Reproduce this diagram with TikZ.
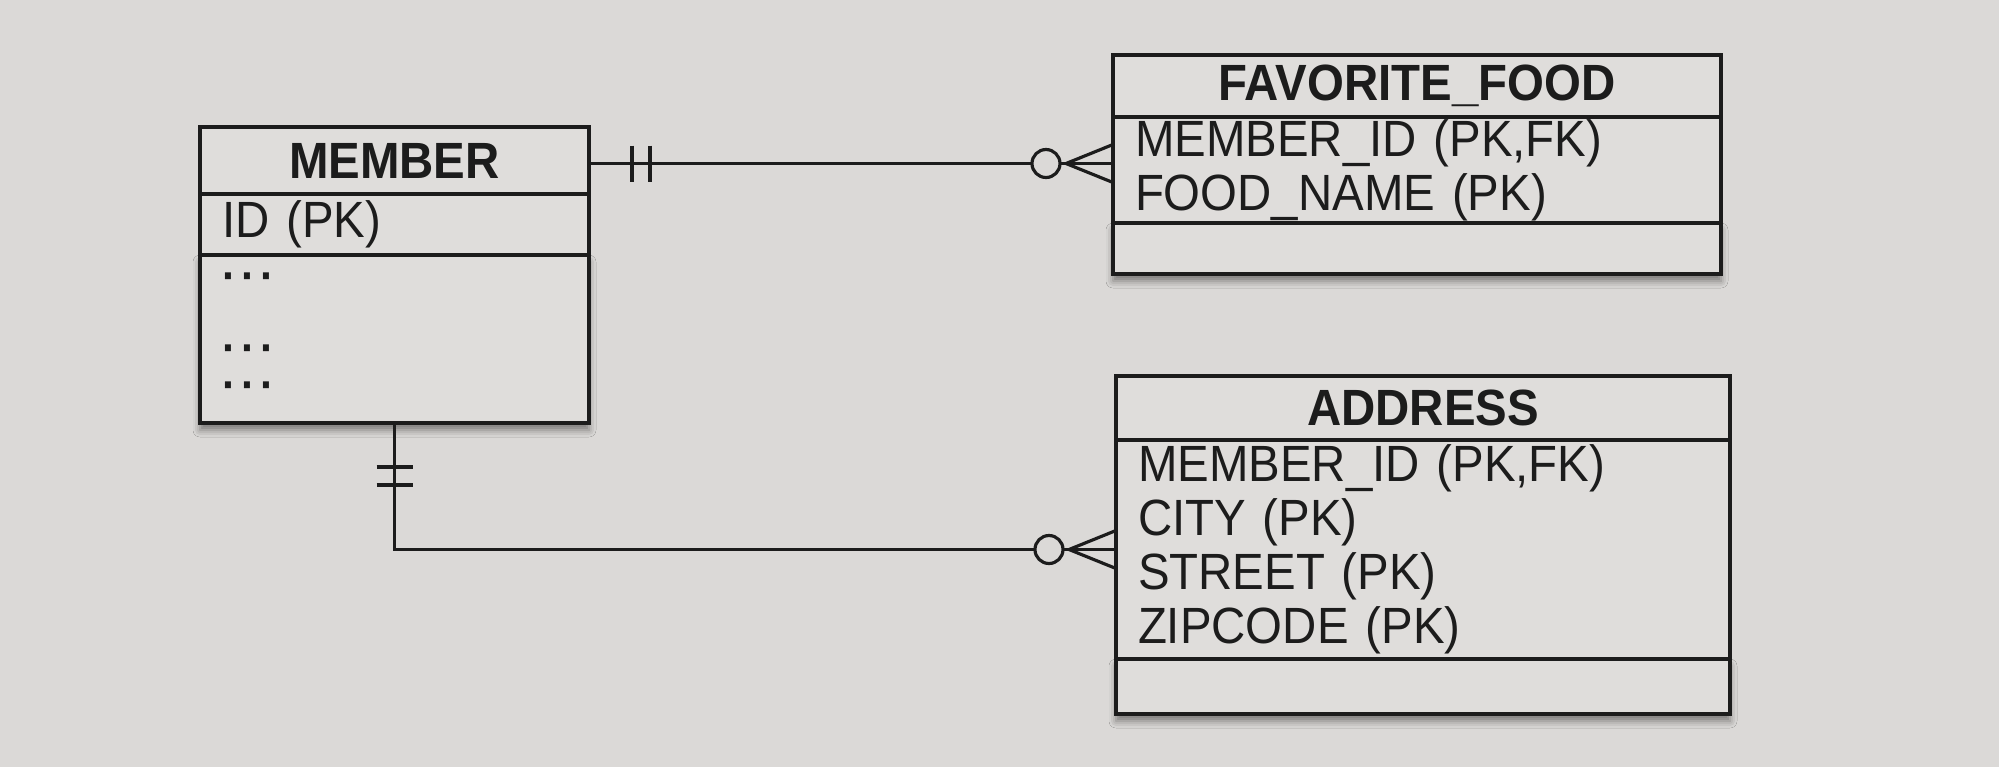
\documentclass[tikz,border=0pt]{standalone}
\usepackage{fontspec}
\setmainfont{Liberation Sans}[FakeStretch=0.93]
\usetikzlibrary{positioning, calc, shadows.blur}
\definecolor{paper}{RGB}{219,217,215}
\definecolor{cardc}{RGB}{223,221,219}
\definecolor{ink}{RGB}{28,28,28}
\tikzset{
  every node/.style={text=ink, font=\fontsize{14.5}{15.4}\selectfont},
  thead/.style={
    draw=ink, fill=cardc, line width=0.9pt, outer sep=0pt, inner sep=0pt,
    minimum width=#1, font=\fontsize{14.5}{15.4}\selectfont\bfseries
  },
  tbody/.style={
    draw=ink, fill=cardc, line width=0.9pt, outer sep=0pt,
    inner xsep=0.22cm, inner ysep=0pt, text width=#1, align=left
  },
  tfoot/.style={
    tbody=#1,
    blur shadow={shadow xshift=0pt, shadow yshift=-0.07cm,
      shadow blur radius=0.07cm, shadow opacity=45}
  },
  rel/.style={draw=ink, line width=0.9pt}
}

\begin{document}
\begin{tikzpicture}
  \useasboundingbox (0,0) rectangle (19.99,-7.67);
  \fill[paper] (0,0) rectangle (19.99,-7.67);

  % MEMBER
  \node[thead=3.89cm, minimum height=0.67cm, anchor=north west] (mhead) at (2.00,-1.27) {MEMBER};
  \node[tbody=3.45cm, minimum height=0.61cm, below=0pt of mhead] (mbody) {ID (PK)};
  \node[tfoot=3.45cm, text height=0.36cm, text depth=1.32cm,
    font=\fontsize{13}{13.5}\selectfont\bfseries, below=0pt of mbody] (mrest)
    {·\kern0.05cm·\kern0.05cm·\\[0.254cm]·\kern0.05cm·\kern0.05cm·\\[-0.106cm]·\kern0.05cm·\kern0.05cm·};

  % FAVORITE_FOOD
  \node[thead=6.08cm, minimum height=0.62cm, anchor=north west] (fhead) at (11.13,-0.55) {FAVORITE\_FOOD};
  \node[tbody=5.64cm, minimum height=1.06cm, below=0pt of fhead] (fbody)
    {MEMBER\_ID (PK,FK)\\FOOD\_NAME (PK)};
  \node[tfoot=5.64cm, minimum height=0.51cm, below=0pt of fbody] (ffoot) {};

  % ADDRESS
  \node[thead=6.14cm, minimum height=0.64cm, anchor=north west] (ahead) at (11.16,-3.76) {ADDRESS};
  \node[tbody=5.70cm, minimum height=2.19cm, below=0pt of ahead] (abody)
    {MEMBER\_ID (PK,FK)\\CITY (PK)\\STREET (PK)\\ZIPCODE (PK)};
  \node[tfoot=5.70cm, minimum height=0.55cm, below=0pt of abody] (afoot) {};

  % MEMBER -- FAVORITE_FOOD
  \coordinate (fend) at ([yshift=-0.03cm]mhead.east -| fbody.west);
  \draw[rel] ([yshift=-0.03cm]mhead.east) -- (fend);
  \draw[rel] ([xshift=0.43cm,yshift=0.15cm]mhead.east) -- ++(0,-0.36);
  \draw[rel] ([xshift=0.61cm,yshift=0.15cm]mhead.east) -- ++(0,-0.36);
  \draw[rel, fill=paper] ([xshift=-0.67cm]fend) circle (0.14);
  \draw[rel] ([xshift=-0.47cm]fend) -- ([yshift=0.19cm]fend)
             ([xshift=-0.47cm]fend) -- ([yshift=-0.19cm]fend);

  % MEMBER -- ADDRESS
  \coordinate (aend) at (abody.west);
  \draw[rel] (mrest.south) |- (aend);
  \draw[rel] ([xshift=-0.18cm,yshift=-0.44cm]mrest.south) -- ++(0.36,0);
  \draw[rel] ([xshift=-0.18cm,yshift=-0.62cm]mrest.south) -- ++(0.36,0);
  \draw[rel, fill=paper] ([xshift=-0.67cm]aend) circle (0.14);
  \draw[rel] ([xshift=-0.47cm]aend) -- ([yshift=0.19cm]aend)
             ([xshift=-0.47cm]aend) -- ([yshift=-0.19cm]aend);
\end{tikzpicture}
\end{document}
